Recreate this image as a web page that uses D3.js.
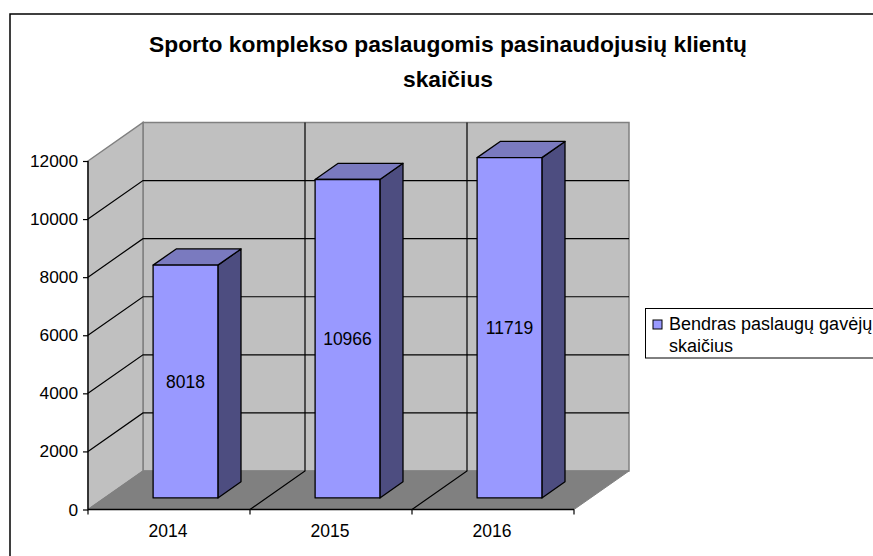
<!DOCTYPE html>
<html lang="en">
<head>
    <meta charset="UTF-8">
    <title>Sporto komplekso klientai</title>
    <script src="https://d3js.org/d3.v7.min.js"></script>
    <style>
        html, body { margin: 0; padding: 0; background: #fff; overflow: hidden; }
        svg { display: block; }
        text { font-family: "Liberation Sans", Arial, sans-serif; fill: #000; }
    </style>
</head>
<body>
    <svg id="chart" width="873" height="556"></svg>
    <script>
        const years = ["2014", "2015", "2016"];
        const clients = [8018, 10966, 11719];
        const valueTicks = [0, 2000, 4000, 6000, 8000, 10000, 12000];
        const titleLines = ["Sporto komplekso paslaugomis pasinaudojusių klientų", "skaičius"];
        const legendLines = ["Bendras paslaugų gavėjų", "skaičius"];

        const svg = d3.select("#chart");

        // front plane of the 3D box, depth is pushed back by dx/dy
        const depthX = 55;
        const depthY = -38.5;
        const x = d3.scaleBand().domain(years).range([88, 574]).paddingInner(0.6).paddingOuter(0.3);
        const xEdge = d3.scaleLinear().domain([0, years.length]).range([88, 574]);
        const y = d3.scaleLinear().domain([0, 12000]).range([509.5, 161]);
        const px = (a, t) => a + t * depthX;
        const py = (v, t) => y(v) + t * depthY;
        const poly = pts => pts.map(p => p.join(",")).join(" ");

        // frame, runs off the picture on the right and bottom
        svg.append("rect").attr("x", 10).attr("y", 14).attr("width", 900).attr("height", 600)
            .attr("fill", "#fff").attr("stroke", "#000").attr("stroke-width", 1.5);

        // walls
        const yMax = 12000;
        svg.append("polygon")
            .attr("points", poly([[px(88, 1), py(yMax, 1)], [px(574, 1), py(yMax, 1)], [px(574, 1), py(0, 1)], [px(88, 1), py(0, 1)]]))
            .attr("fill", "#c0c0c0").attr("stroke", "#808080").attr("stroke-width", 1.5);
        svg.append("polygon")
            .attr("points", poly([[88, py(yMax, 0)], [px(88, 1), py(yMax, 1)], [px(88, 1), py(0, 1)], [88, py(0, 0)]]))
            .attr("fill", "#c0c0c0").attr("stroke", "#808080").attr("stroke-width", 1.5);
        svg.append("polygon")
            .attr("points", poly([[88, py(0, 0)], [574, py(0, 0)], [px(574, 1), py(0, 1)], [px(88, 1), py(0, 1)]]))
            .attr("fill", "#808080").attr("stroke", "#808080").attr("stroke-width", 1);

        // gridlines on the walls
        const grid = svg.append("g").attr("fill", "none").attr("stroke", "#000").attr("stroke-width", 1.2);
        grid.selectAll("polyline.h")
            .data(valueTicks.filter(v => v > 0 && v < yMax))
            .enter().append("polyline")
            .attr("class", "h")
            .attr("points", v => poly([[88, py(v, 0)], [px(88, 1), py(v, 1)], [px(574, 1), py(v, 1)]]));
        grid.selectAll("polyline.v")
            .data([1, 2])
            .enter().append("polyline")
            .attr("class", "v")
            .attr("points", i => poly([[xEdge(i), py(0, 0)], [px(xEdge(i), 1), py(0, 1)], [px(xEdge(i), 1), py(yMax, 1)]]));

        // bars
        const t0 = 0.3;
        const t1 = 0.72;
        const bars = svg.selectAll("g.bar")
            .data(years.map((year, i) => ({ year, value: clients[i] })))
            .enter().append("g")
            .attr("class", "bar")
            .attr("stroke", "#000")
            .attr("stroke-width", 1.3)
            .attr("stroke-linejoin", "round");

        bars.append("polygon")
            .attr("fill", "#4d4d80")
            .attr("points", d => {
                const r = x(d.year) + x.bandwidth();
                return poly([[px(r, t0), py(d.value, t0)], [px(r, t1), py(d.value, t1)], [px(r, t1), py(0, t1)], [px(r, t0), py(0, t0)]]);
            });
        bars.append("polygon")
            .attr("fill", "#7a7abf")
            .attr("points", d => {
                const l = x(d.year);
                const r = l + x.bandwidth();
                return poly([[px(l, t0), py(d.value, t0)], [px(l, t1), py(d.value, t1)], [px(r, t1), py(d.value, t1)], [px(r, t0), py(d.value, t0)]]);
            });
        bars.append("rect")
            .attr("fill", "#9999ff")
            .attr("x", d => px(x(d.year), t0))
            .attr("y", d => py(d.value, t0))
            .attr("width", x.bandwidth())
            .attr("height", d => py(0, t0) - py(d.value, t0));
        bars.append("text")
            .attr("x", d => px(x(d.year), t0) + x.bandwidth() / 2)
            .attr("y", d => (py(0, t0) + py(d.value, t0)) / 2 + 6)
            .attr("text-anchor", "middle")
            .attr("font-size", 17.5)
            .attr("stroke", "none")
            .text(d => d.value);

        // value axis
        const yAxis = svg.append("g")
            .attr("transform", "translate(88,0)")
            .call(d3.axisLeft(y).tickValues(valueTicks).tickFormat(d3.format("d")).tickSize(5).tickPadding(5));
        yAxis.selectAll("path").attr("stroke", "#000").attr("stroke-width", 1.3).attr("d", `M0,${y(12000)}V${y(0)}`);
        yAxis.selectAll("line").attr("stroke", "#000").attr("stroke-width", 1.2);
        yAxis.selectAll("text").attr("font-size", 17.3).attr("font-family", null);

        // category axis, ticks sit between the categories
        svg.append("line")
            .attr("x1", xEdge(0)).attr("x2", xEdge(3))
            .attr("y1", y(0)).attr("y2", y(0))
            .attr("stroke", "#000").attr("stroke-width", 1.3);
        svg.selectAll("line.xtick")
            .data(d3.range(years.length + 1))
            .enter().append("line")
            .attr("class", "xtick")
            .attr("x1", i => xEdge(i)).attr("x2", i => xEdge(i))
            .attr("y1", y(0)).attr("y2", y(0) + 5)
            .attr("stroke", "#000").attr("stroke-width", 1.2);
        svg.selectAll("text.xlabel")
            .data(years)
            .enter().append("text")
            .attr("class", "xlabel")
            .attr("x", d => x(d) + x.bandwidth() / 2 - 1)
            .attr("y", 537)
            .attr("text-anchor", "middle")
            .attr("font-size", 17.5)
            .text(d => d);

        // title
        svg.selectAll("text.title")
            .data(titleLines)
            .enter().append("text")
            .attr("class", "title")
            .attr("x", 448)
            .attr("y", (d, i) => 51.5 + i * 35)
            .attr("text-anchor", "middle")
            .attr("font-size", 22.8)
            .attr("font-weight", "bold")
            .text(d => d);

        // legend
        svg.append("rect").attr("x", 645.5).attr("y", 308.5).attr("width", 240).attr("height", 49.5)
            .attr("fill", "#fff").attr("stroke", "#000").attr("stroke-width", 1);
        svg.append("rect").attr("x", 653).attr("y", 320).attr("width", 9).attr("height", 9)
            .attr("fill", "#9999ff").attr("stroke", "#000").attr("stroke-width", 1);
        svg.selectAll("text.legend")
            .data(legendLines)
            .enter().append("text")
            .attr("class", "legend")
            .attr("x", 669)
            .attr("y", (d, i) => 330 + i * 21.5)
            .attr("font-size", 18)
            .text(d => d);
    </script>
</body>
</html>
